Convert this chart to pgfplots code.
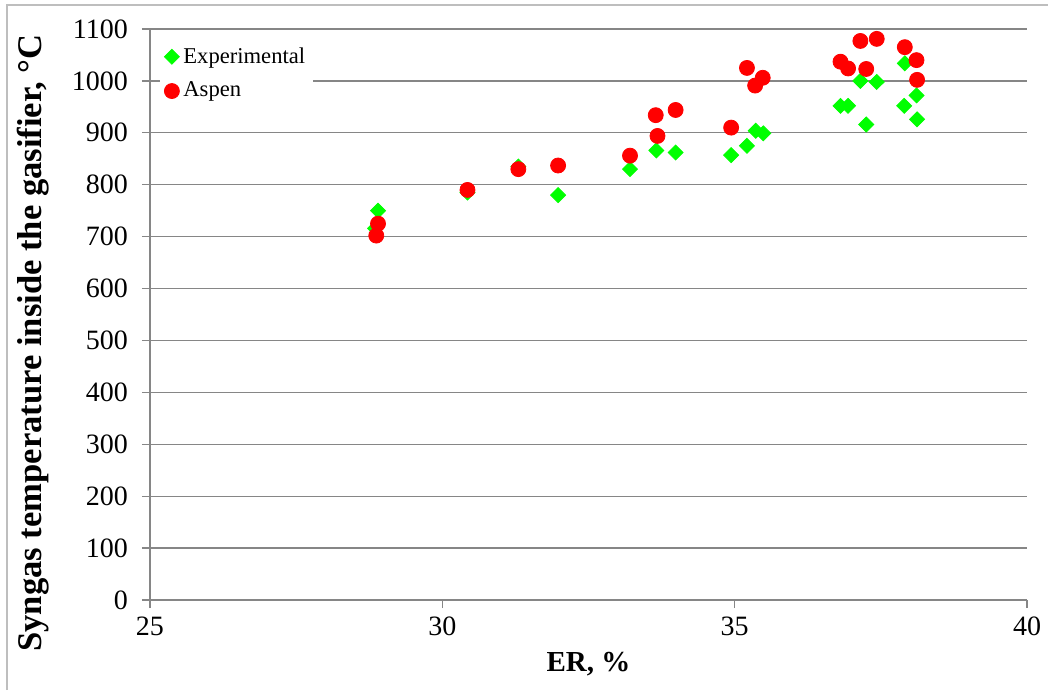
\documentclass[border=0pt]{standalone}
\usepackage{fontspec}
\setmainfont{Liberation Serif}
\usepackage{pgfplots}
\pgfplotsset{compat=1.18}
\definecolor{expgreen}{RGB}{0,255,0}
\definecolor{aspred}{RGB}{255,0,0}
\definecolor{gridc}{RGB}{134,134,134}
\definecolor{borderc}{RGB}{190,190,190}
\begin{document}
\begin{tikzpicture}
\path[use as bounding box] (-75pt,-45pt) rectangle (449pt,300pt);
\draw[borderc, line width=0.8pt] (-71.5pt,-45pt) -- (-71.5pt,297.5pt) -- (449pt,297.5pt);
\begin{axis}[
  at={(0,0)}, anchor=south west,
  scale only axis, width=438.5pt, height=285.5pt,
  xmin=25, xmax=40, ymin=0, ymax=1100,
  xtick={25,30,35,40}, ytick={0,100,...,1100},
  axis x line*=bottom, axis y line*=left,
  ymajorgrids, major grid style={gridc, line width=0.6pt},
  axis line style={gridc, line width=0.6pt},
  tick style={gridc, line width=0.6pt},
  tick align=outside, major tick length=4pt,
  tick label style={font=\fontsize{14}{16}\selectfont},
  /pgf/number format/assume math mode=true,
  /pgf/number format/1000 sep={},
  yticklabel style={xshift=-3.5pt},
  xticklabel style={yshift=-1pt},
  xlabel={\textbf{ER, \%}},
  ylabel={\textbf{Syngas temperature inside the gasifier, °C}},
  xlabel style={font=\fontsize{14.5}{16}\selectfont, at={(axis description cs:0.5,-0.113)}, anchor=center},
  ylabel style={font=\fontsize{17.3}{19}\selectfont, at={(axis description cs:-0.1334,0.45)}, anchor=center},
  legend style={at={(rel axis cs:0,1)}, anchor=north west, xshift=5pt, yshift=-3pt,
    draw=none, fill=white, font=\fontsize{11.3}{13}\selectfont,
    row sep=4pt, inner xsep=2pt, inner ysep=4pt},
  legend cell align=left,
  legend image code/.code={\draw[#1] plot coordinates {(3pt,0pt)};},
  clip=false,
]
\addplot[only marks, mark=square*, mark size=2.65pt,
  mark options={rotate=45, fill=expgreen, draw=expgreen}] coordinates {
(28.90,750) (28.85,716) (30.43,785) (31.30,835) (31.98,780)
(33.21,830) (33.66,866) (33.99,862) (34.94,857) (35.21,875)
(35.36,904) (35.49,899) (36.81,952) (36.94,952) (37.15,1000)
(37.25,916) (37.43,998) (37.90,952) (37.91,1034) (38.11,972)
(38.12,926)
};
\addlegendentry{Experimental}
\addplot[only marks, mark=*, mark size=3.75pt,
  mark options={fill=aspred, draw=aspred}] coordinates {
(28.90,725) (28.87,702) (30.43,790) (31.30,830) (31.98,837)
(33.21,856) (33.65,934) (33.68,894) (33.99,944) (34.94,910)
(35.21,1025) (35.35,991) (35.48,1006) (36.81,1037) (36.94,1024)
(37.15,1077) (37.25,1023) (37.43,1081) (37.91,1065) (38.11,1040)
(38.12,1002)
};
\addlegendentry{Aspen}
\end{axis}
\end{tikzpicture}
\end{document}
